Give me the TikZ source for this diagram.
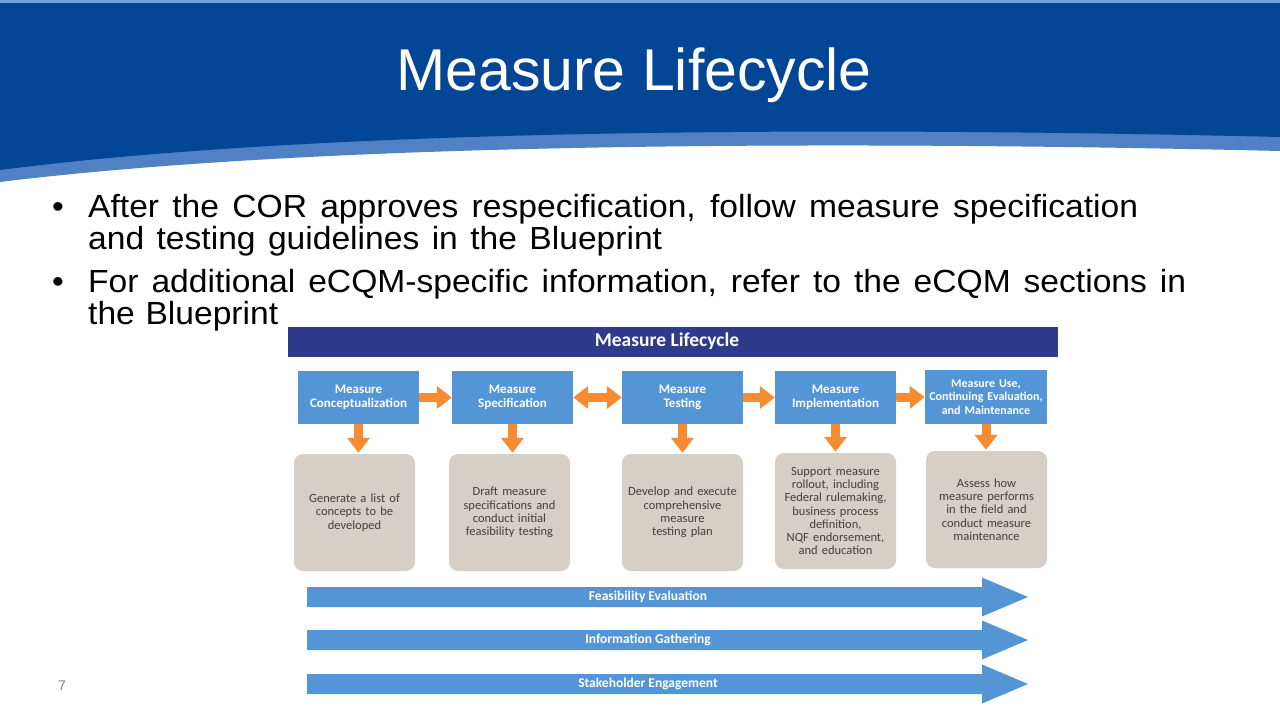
\documentclass[tikz,border=0pt]{standalone}
\usepackage{fontspec}
\setmainfont{Liberation Sans}
\newfontfamily\bulletfont[FakeStretch=1.05]{Liberation Sans}
\newfontfamily\calib{Carlito}
\usetikzlibrary{arrows.meta}
\definecolor{hdrblue}{RGB}{4,70,150}
\definecolor{stripe}{RGB}{79,129,196}
\definecolor{topline}{RGB}{110,165,220}
\definecolor{navy}{RGB}{46,58,140}
\definecolor{boxblue}{RGB}{84,150,213}
\definecolor{orng}{RGB}{247,139,50}
\definecolor{tan}{RGB}{214,207,199}
\definecolor{dtext}{RGB}{64,64,64}
\definecolor{pgnum}{RGB}{130,130,130}
\tikzset{
  stagebox/.style={fill=boxblue, inner sep=0pt, minimum width=121pt, minimum height=53pt,
    text width=119pt, align=center, text=white, font=\calib\bfseries\fontsize{13}{13.5}\selectfont},
  descbox/.style={fill=tan, rounded corners=9pt, inner sep=0pt, minimum width=121pt, minimum height=117pt,
    text width=117pt, align=center, text=dtext, font=\calib\fontsize{12.5}{13.3}\selectfont},
  oarrow/.style={draw=orng, line width=9pt, -{Triangle[width=22pt,length=15pt]}},
  oarrowboth/.style={draw=orng, line width=9pt, {Triangle[width=22pt,length=15pt]}-{Triangle[width=22pt,length=15pt]}},
  bandlabel/.style={text=white, inner sep=0pt, font=\calib\bfseries\fontsize{13.5}{15}\selectfont},
  bulletline/.style={anchor=base west, inner sep=0pt, font=\bulletfont\fontsize{32}{38}\selectfont},
}
\begin{document}
\begin{tikzpicture}[x=1pt,y=-1pt]
\fill[white] (0,0) rectangle (1280,720);
\useasboundingbox (0,0) rectangle (1280,720);
% header
\fill[stripe] (0,0) -- (1280,0) -- (1280,151) .. controls (900,142) and (350,139) .. (0,182) -- cycle;
\fill[hdrblue] (0,0) -- (1280,0) -- (1280,137) .. controls (900,128) and (350,125) .. (0,170) -- cycle;
\fill[topline] (0,0) rectangle (1280,2.5);
\node[anchor=base, inner sep=0pt, text=white, font=\fontsize{59}{72}\selectfont] (title) at (634,90) {Measure Lifecycle};
% bullets
\node[bulletline] (bu1) at (52,217) {•};
\node[bulletline] (l1) at (88,217) {\makebox[1050pt][s]{After the COR approves respecification, follow measure specification}};
\node[bulletline] (l2) at (88,249) {\makebox[574pt][s]{and testing guidelines in the Blueprint}};
\node[bulletline] (bu2) at (52,292) {•};
\node[bulletline] (l3) at (88,292) {\makebox[1098pt][s]{For additional eCQM-specific information, refer to the eCQM sections in}};
\node[bulletline] (l4) at (88,324) {\makebox[190pt][s]{the Blueprint}};
% diagram header bar
\node[fill=navy, inner sep=0pt, minimum width=770pt, minimum height=30pt] (bar) at (673,341.5) {};
\node[text=white, inner sep=0pt, font=\calib\bfseries\fontsize{19.5}{22}\selectfont] (bartitle) at (667,341.5) {Measure Lifecycle};
% stage boxes
\node[stagebox] (b1) at (358.5,397.5) {Measure\\Conceptualization};
\node[stagebox] (b2) at (512.5,397.5) {Measure\\Specification};
\node[stagebox] (b3) at (682.5,397.5) {Measure\\Testing};
\node[stagebox] (b4) at (835.5,397.5) {Measure\\Implementation};
\node[stagebox, minimum width=122pt, minimum height=54pt, text width=121pt, font=\calib\bfseries\fontsize{12}{13.5}\selectfont] (b5) at (986,397) {Measure Use,\\Continuing Evaluation,\\and Maintenance};
% description boxes
\node[descbox] (g1) at (354.5,512.5) {Generate a list of\\concepts to be\\developed};
\node[descbox] (g2) at (509.5,512.5) {Draft measure\\specifications and\\conduct initial\\feasibility testing};
\node[descbox] (g3) at (682.5,512.5) {Develop and execute\\comprehensive\\measure\\testing plan};
\node[descbox, minimum height=116pt] (g4) at (835.5,511) {Support measure\\rollout, including\\Federal rulemaking,\\business process\\definition,\\NQF endorsement,\\and education};
\node[descbox] (g5) at (986.5,509.5) {Assess how\\measure performs\\in the field and\\conduct measure\\maintenance};
% horizontal arrows
\draw[oarrow] (b1.east) -- (b2.west);
\draw[oarrowboth] (b2.east) -- (b3.west);
\draw[oarrow] (b3.east) -- (b4.west);
\draw[oarrow] (b4.east) -- (b5.west);
% vertical arrows
\foreach \i in {1,...,5} {
  \draw[oarrow, shorten >=1pt] (b\i.south) -- (b\i.south |- g\i.north);
}
% bottom band arrows
\foreach \yc/\lab/\nm in {597/Feasibility Evaluation/fe, 640/Information Gathering/ig, 684/Stakeholder Engagement/se} {
  \fill[boxblue] (307,\yc-10) -- (982,\yc-10) -- (982,\yc-19.5) -- (1028,\yc) -- (982,\yc+19.5) -- (982,\yc+10) -- (307,\yc+10) -- cycle;
  \node[bandlabel] (\nm) at (648,\yc) {\lab};
}
% page number
\node[anchor=base, inner sep=0pt, text=pgnum, font=\fontsize{14}{16}\selectfont] (pg) at (62,690) {7};
\end{tikzpicture}
\end{document}
